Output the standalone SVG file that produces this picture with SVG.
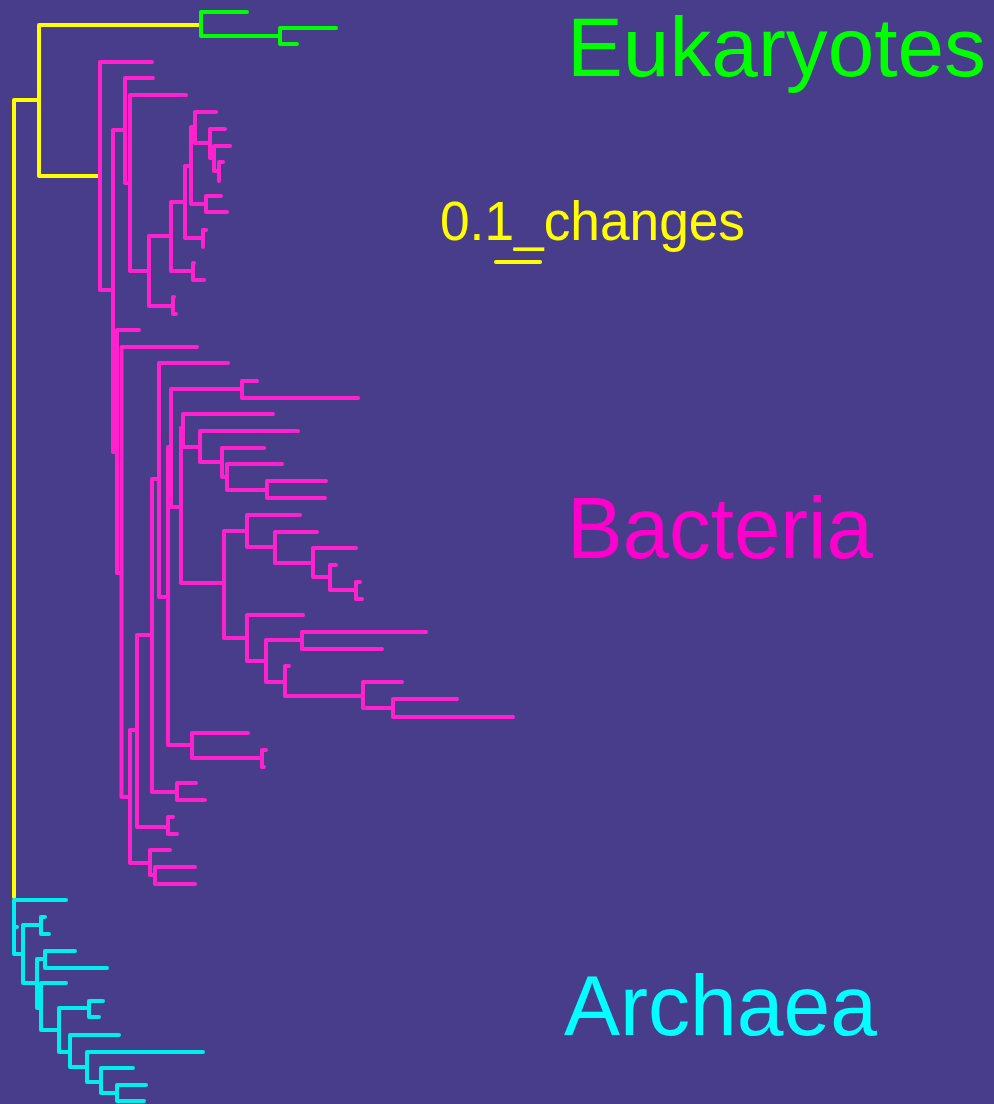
<svg xmlns="http://www.w3.org/2000/svg" width="994" height="1104" viewBox="0 0 994 1104">
<style>
.b{fill:none;stroke-width:4;stroke-linecap:round;stroke-linejoin:round}
.y{stroke:#ffff00}.g{stroke:#00ff00}.p{stroke:#ff22cc}.c{stroke:#00eeee}
.t{font-family:"Liberation Sans",Arial,sans-serif}
</style>
<rect width="994" height="1104" fill="#483d8b"/>
<g id="connectors">
<g id="root" class="b y">
<path d="M39 100H14V897"/>
<path d="M200 25H39V176H100"/>
</g>
<g id="eukaryotes-tree" class="b g">
<path d="M247 12H201V36H280"/>
<path d="M336 28H280V44H297"/>
</g>
<g id="bacteria-tree" class="b p">
<path d="M152 62H100V290H113"/>
<path d="M125 130H113V452H117"/>
<path d="M153 78H125V183H130"/>
<path d="M186 95H130V271H149"/>
<path d="M171 236H149V306H173"/>
<path d="M174 297H173V314H176"/>
<path d="M185 202H171V271H193"/>
<path d="M194 263H193V280H204"/>
<path d="M191 166H185V238H203"/>
<path d="M206 230H203V247"/>
<path d="M195 127H191V204H206"/>
<path d="M221 196H206V212H227"/>
<path d="M216 112H195V143H210"/>
<path d="M225 129H210V158H214"/>
<path d="M230 146H214V171H219"/>
<path d="M223 162H219V181"/>
<path d="M139 330H117V573H121.5"/>
<path d="M197 347H121.5V797H130"/>
<path d="M137 730H130V863H150"/>
<path d="M170 850H150V875H155"/>
<path d="M195 867H155V884H195"/>
<path d="M152 635H137V827H168"/>
<path d="M173 817H168V834H177"/>
<path d="M159 479H152V792H177"/>
<path d="M196 783H177V800H205"/>
<path d="M228 363H159V597H168"/>
<path d="M171 447H168V745H192"/>
<path d="M248 733H192V758H262"/>
<path d="M266 750H262V767H264"/>
<path d="M242 389H171V507H181"/>
<path d="M257 381H242V398H358"/>
<path d="M183 428H181V583H224"/>
<path d="M273 414H183V447H200"/>
<path d="M298 431H200V462H222"/>
<path d="M264 448H222V477H227"/>
<path d="M282 464H227V490H267"/>
<path d="M326 481H267V498H325"/>
<path d="M247 531H224V638H247"/>
<path d="M300 515H247V547H275"/>
<path d="M317 532H275V563H313"/>
<path d="M356 548H313V577H330"/>
<path d="M336 565H330V590H356"/>
<path d="M360 582H356V599H362"/>
<path d="M303 615H247V661H266"/>
<path d="M302 640H266V682H285"/>
<path d="M426 632H302V649H382"/>
<path d="M289 666H285V696H363"/>
<path d="M402 682H363V708H393"/>
<path d="M457 699H393V717H513"/>
</g>
<g id="archaea-tree" class="b c">
<path d="M66 900H14V954H23"/>
<path d="M14 927H17"/>
<path d="M41 925H23V983H37"/>
<path d="M45 917H41V934H49"/>
<path d="M45 959H37V1008H41"/>
<path d="M75 951H45V968H107"/>
<path d="M66 983H41V1030H59"/>
<path d="M89 1008H59V1052H70"/>
<path d="M103 1001H89V1017H99"/>
<path d="M119 1035H70V1067H87"/>
<path d="M203 1052H87V1082H101"/>
<path d="M133 1068H101V1093H117"/>
<path d="M146 1085H117V1101H144"/>
</g>
</g>
<g id="scale">
<path class="b y" d="M496 262H540"/>
<text class="t" x="440" y="240" font-size="56" textLength="305" lengthAdjust="spacingAndGlyphs" fill="#ffff00">0.1_changes</text>
</g>
<g id="label-eukaryotes"><text class="t" x="567" y="76" font-size="83" textLength="419" lengthAdjust="spacingAndGlyphs" fill="#00ff00">Eukaryotes</text></g>
<g id="label-bacteria"><text class="t" x="567" y="558" font-size="87" textLength="306" lengthAdjust="spacingAndGlyphs" fill="#ff00cc">Bacteria</text></g>
<g id="label-archaea"><text class="t" x="564" y="1035" font-size="86" textLength="313" lengthAdjust="spacingAndGlyphs" fill="#00ffff">Archaea</text></g>
</svg>
